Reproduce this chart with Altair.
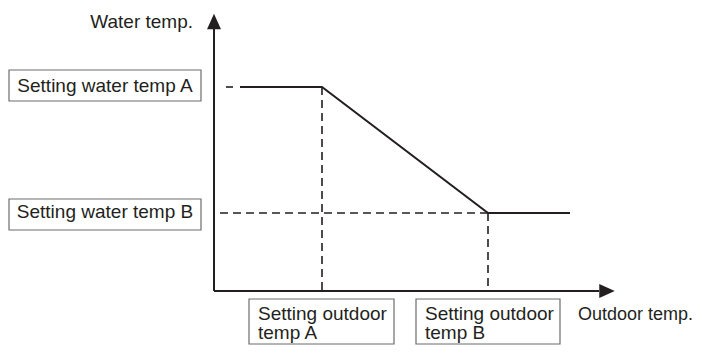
import altair as alt
import pandas as pd

# ---- diagram values (units: offset from the axis origin) ----
# water temperature setting levels (A, B)
water_levels = [204, 78]
# outdoor temperature setting points (A, B)
outdoor_points = [108, 274]
# characteristic curve (solid)
curve_x = [26, 108, 274, 356]
curve_y = [204, 204, 78, 78]
# axes extents and arrow heads
axis_x_end = 385
axis_y_end = 262
arrow_x_pos = [393, 0]
arrow_y_pos = [0, 269.5]

# label boxes
box_x1 = [-205, -205, 35, 202]
box_x2 = [-13, -13, 180, 346]
box_y1 = [221, 92, -8, -8]
box_y2 = [190, 61, -53, -53]

# label texts
box_text = ["Setting water temp A", "Setting water temp B",
            "Setting outdoor\ntemp A", "Setting outdoor\ntemp B"]
box_text_x = [-109, -109, 44, 211]
box_text_y = [199, 73, -29, -29]
box_text_align = ["center", "center", "left", "left"]

axis_titles = ["Water temp.", "Outdoor temp."]
axis_title_x = [-21, 364]
axis_title_y = [263, -29]
axis_title_align = ["right", "left"]

INK = "#231f20"
FONT = "Liberation Sans"
FS = 19

# plot area covers page pixels x 8..695, y 8..345 (origin at page px 214, 291)
xs = alt.Scale(domain=[-206, 481])
ys = alt.Scale(domain=[-54, 283])


def X(f="x"):
    return alt.X(f"{f}:Q", scale=xs, axis=None)


def Y(f="y"):
    return alt.Y(f"{f}:Q", scale=ys, axis=None)


# axes
axes_df = pd.DataFrame({
    "x": [0, 0], "x2": [0, axis_x_end],
    "y": [0, 0], "y2": [axis_y_end, 0],
})
axes = alt.Chart(axes_df).mark_rule(color=INK, strokeWidth=2).encode(
    x=X(), x2="x2:Q", y=Y(), y2="y2:Q")

arrow_up = alt.Chart(pd.DataFrame({"x": [arrow_y_pos[0]], "y": [arrow_y_pos[1]]})).mark_point(
    shape="M-0.9,1L0,-1L0.9,1Z", filled=True, size=240, opacity=1, color=INK, strokeWidth=0
).encode(x=X(), y=Y())
arrow_right = alt.Chart(pd.DataFrame({"x": [arrow_x_pos[0]], "y": [arrow_x_pos[1]]})).mark_point(
    shape="M-1,-0.9L1,0L-1,0.9Z", filled=True, size=240, opacity=1, color=INK, strokeWidth=0
).encode(x=X(), y=Y())

# solid curve
curve_df = pd.DataFrame({"x": curve_x, "y": curve_y, "o": list(range(len(curve_x)))})
curve = alt.Chart(curve_df).mark_line(color=INK, strokeWidth=2).encode(
    x=X(), y=Y(), order="o:O")

# dashed guide lines
dash_df = pd.DataFrame({
    "x": [outdoor_points[1], outdoor_points[0], outdoor_points[1]],
    "x2": [2, outdoor_points[0], outdoor_points[1]],
    "y": [water_levels[1], water_levels[0], water_levels[1]],
    "y2": [water_levels[1], 0, 0],
})
dashes = alt.Chart(dash_df).mark_rule(color=INK, strokeWidth=1.6, strokeDash=[8, 5]).encode(
    x=X(), x2="x2:Q", y=Y(), y2="y2:Q")

lead_df = pd.DataFrame({"x": [12], "x2": [curve_x[0]], "y": [water_levels[0]], "y2": [water_levels[0]]})
lead = alt.Chart(lead_df).mark_rule(color=INK, strokeWidth=1.6, strokeDash=[7, 7]).encode(
    x=X(), x2="x2:Q", y=Y(), y2="y2:Q")

# boxes
box_df = pd.DataFrame({"x": box_x1, "x2": box_x2, "y": box_y1, "y2": box_y2})
boxes = alt.Chart(box_df).mark_rect(fill="white", stroke="#6d6d6d", strokeWidth=1.2).encode(
    x=X(), x2="x2:Q", y=Y(), y2="y2:Q")

# texts
txt_df = pd.DataFrame({"x": box_text_x, "y": box_text_y, "t": box_text, "a": box_text_align})
txt_center = alt.Chart(txt_df[txt_df.a == "center"]).mark_text(
    align="center", baseline="alphabetic", font=FONT, fontSize=FS, color=INK
).encode(x=X(), y=Y(), text="t:N")
txt_left = alt.Chart(txt_df[txt_df.a == "left"]).mark_text(
    align="left", baseline="alphabetic", font=FONT, fontSize=FS, color=INK,
    lineBreak="\n", lineHeight=19
).encode(x=X(), y=Y(), text="t:N")

at_df = pd.DataFrame({"x": axis_title_x, "y": axis_title_y, "t": axis_titles, "a": axis_title_align})
at_right = alt.Chart(at_df[at_df.a == "right"]).mark_text(
    align="right", baseline="alphabetic", font=FONT, fontSize=FS, color=INK
).encode(x=X(), y=Y(), text="t:N")
at_left = alt.Chart(at_df[at_df.a == "left"]).mark_text(
    align="left", baseline="alphabetic", font=FONT, fontSize=18, color=INK
).encode(x=X(), y=Y(), text="t:N")

chart = alt.layer(
    dashes, lead, curve, axes, arrow_up, arrow_right,
    boxes, txt_center, txt_left, at_right, at_left
).properties(
    width=687, height=337, padding=0, autosize=alt.AutoSizeParams(type="none"),
    background="white"
).configure_view(stroke=None)

chart.save("out.html", embed_options={"renderer": "svg", "actions": False})
